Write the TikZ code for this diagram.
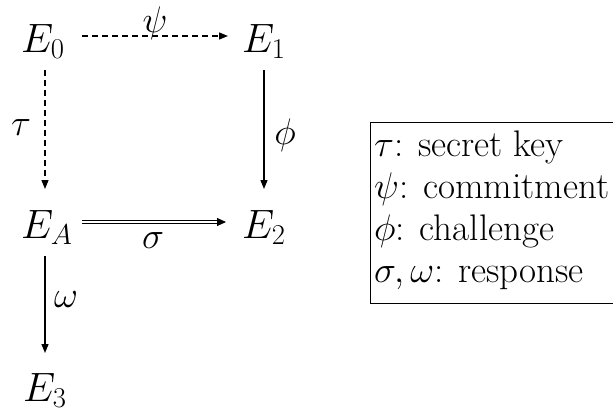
\RequirePackage{fix-cm}
\documentclass[tikz,border=0pt]{standalone}
\usetikzlibrary{arrows.meta,calc}
\tikzset{
  obj/.style={inner sep=0pt, anchor=base west, font=\fontsize{41}{48}\selectfont},
  lab/.style={inner sep=0pt, font=\fontsize{37}{44}\selectfont},
  leg/.style={inner sep=0pt, anchor=base west, font=\fontsize{37}{42}\selectfont},
  arr/.style={line width=1.3pt, -{Triangle[length=9pt,width=7pt]}},
  dash arr/.style={arr, dash pattern=on 6pt off 4pt},
  dbl arr/.style={line width=0.9pt, double, double distance=1.6pt, -{Triangle[length=9pt,width=8pt]}}
}
\begin{document}
\begin{tikzpicture}[x=1pt,y=-1pt]
\useasboundingbox (0,0) rectangle (613,415);
\clip (0,0) rectangle (613,415);
\node[obj] (E0) at (21,52) {$E_0$};
\node[obj] (E1) at (242,52) {$E_1$};
\node[obj] (EA) at (21,238) {$E_A$};
\node[obj] (E2) at (242,238) {$E_2$};
\node[obj] (E3) at (23,401) {$E_3$};
% psi
\draw[dash arr] ($(E0.base west)+(61,-16)$) -- ($(E1.base west)+(-14,-16)$);
\node[lab] (psi) at (155,23) {$\psi$};
% tau
\draw[dash arr] ($(E0.base west)+(24,18)$) -- ($(EA.base west)+(24,-49)$);
\node[lab] (tau) at (21,128) {$\tau$};
% phi
\draw[arr] ($(E1.base west)+(22,18)$) -- ($(E2.base west)+(22,-49)$);
\node[lab] (phi) at (285,135) {$\phi$};
% sigma
\draw[dbl arr] ($(EA.base west)+(61,-16)$) -- ($(E2.base west)+(-16,-16)$);
\node[lab] (sigma) at (153,241) {$\sigma$};
% omega
\draw[arr] ($(EA.base west)+(24,18)$) -- ($(E3.base west)+(22,-48)$);
\node[lab] (omega) at (66,300) {$\omega$};
% legend
\draw[line width=0.8pt] (616,122) -| (370,303) -- (616,303);
\node[leg] (L1) at (374,156) {$\tau$: secret key};
\node[leg] (L2) at (374,198) {$\psi$: commitment};
\node[leg] (L3) at (374,240) {$\phi$: challenge};
\node[leg] (L4) at (374,282) {$\sigma,\omega$: response};
\end{tikzpicture}
\end{document}
